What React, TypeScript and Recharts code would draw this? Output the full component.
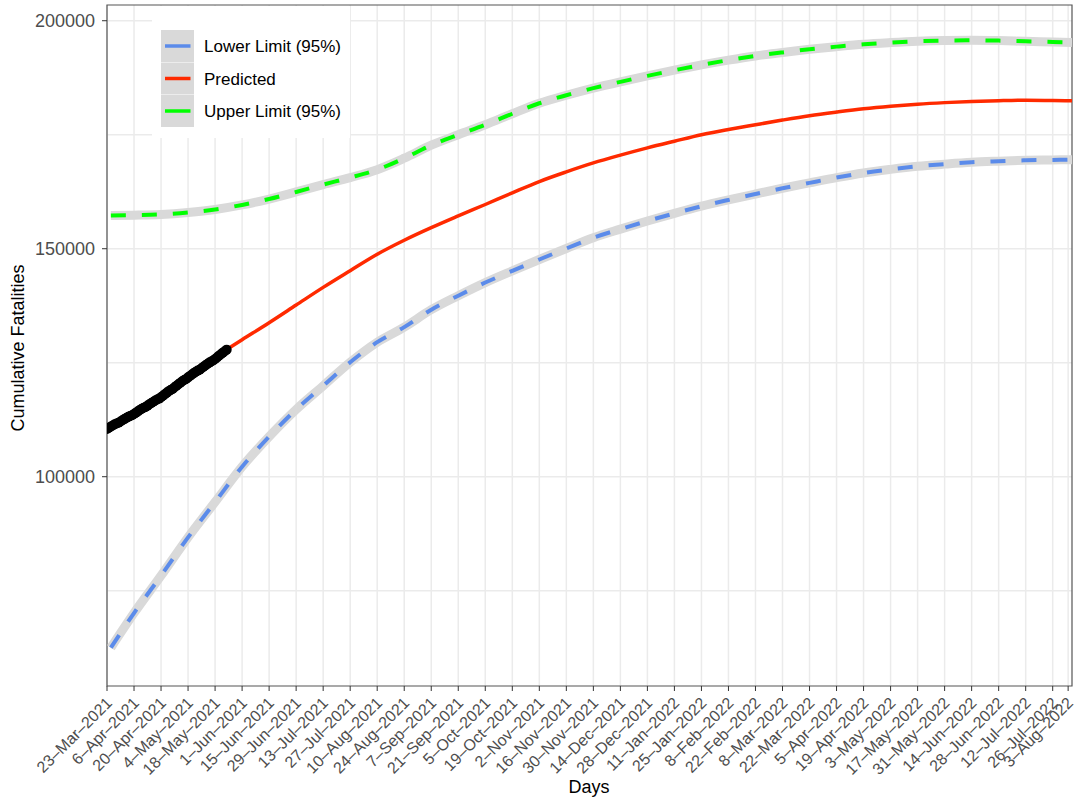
import React from 'react';
import { LineChart, Line, XAxis, YAxis, CartesianGrid, ReferenceArea, Legend } from 'recharts';

// Days since 23-Mar-2021
const tickDays = [0, 14, 28, 42, 56, 70, 84, 98, 112, 126, 140, 154, 168, 182, 196, 210, 224, 238, 252, 266, 280, 294, 308, 322, 336, 350, 364, 378, 392, 406, 420, 434, 448, 462, 476, 490, 498];
const tickLabels = ['23–Mar–2021', '6–Apr–2021', '20–Apr–2021', '4–May–2021', '18–May–2021', '1–Jun–2021', '15–Jun–2021', '29–Jun–2021', '13–Jul–2021', '27–Jul–2021', '10–Aug–2021', '24–Aug–2021', '7–Sep–2021', '21–Sep–2021', '5–Oct–2021', '19–Oct–2021', '2–Nov–2021', '16–Nov–2021', '30–Nov–2021', '14–Dec–2021', '28–Dec–2021', '11–Jan–2022', '25–Jan–2022', '8–Feb–2022', '22–Feb–2022', '8–Mar–2022', '22–Mar–2022', '5–Apr–2022', '19–Apr–2022', '3–May–2022', '17–May–2022', '31–May–2022', '14–Jun–2022', '28–Jun–2022', '12–Jul–2022', '26–Jul–2022', '3–Aug–2022'];
const yTicks = [100000, 150000, 200000];
const yGrid = [75000, 100000, 125000, 150000, 175000, 200000];

// Observed cumulative fatalities (daily, days 0..62)
const observedDays = [0,1,2,3,4,5,6,7,8,9,10,11,12,13,14,15,16,17,18,19,20,21,22,23,24,25,26,27,28,29,30,31,32,33,34,35,36,37,38,39,40,41,42,43,44,45,46,47,48,49,50,51,52,53,54,55,56,57,58,59,60,61,62];
const observedValues = [110480,110740,110995,111245,111485,111685,111855,112120,112380,112635,112885,113125,113325,113495,113760,114050,114335,114615,114885,115110,115300,115590,115880,116165,116445,116715,116940,117130,117420,117765,118105,118440,118765,119035,119260,119605,119950,120290,120625,120950,121220,121445,121790,122105,122415,122720,123015,123265,123475,123795,124110,124420,124725,125020,125270,125480,125800,126160,126515,126865,127205,127505,127865];

// Predicted
const predDays = [62,70,84,98,112,126,140,154,168,182,196,210,224,238,252,266,280,294,308,322,336,350,364,378,392,406,420,434,448,462,476,490,500];
const predValues = [127900,130050,133780,137650,141520,145180,148780,151850,154610,157190,159700,162250,164730,166850,168810,170520,172120,173580,175000,176150,177190,178210,179160,179960,180690,181260,181710,182040,182290,182470,182580,182520,182430];

// Limits
const limDays = [2,14,28,42,56,70,84,98,112,126,140,154,168,182,196,210,224,238,252,266,280,294,308,322,336,350,364,378,392,406,420,434,448,462,476,490,500];
const upperValues = [157270,157350,157520,157950,158600,159600,160900,162450,164060,165600,167340,169850,172700,175000,177200,179600,181900,183650,185210,186600,187900,189150,190310,191350,192280,193050,193740,194320,194840,195200,195490,195650,195710,195640,195480,195350,195250];
const lowerValues = [62500,70100,78300,86700,94440,102200,108800,114750,119930,125100,129500,132800,136620,139700,142580,145150,147630,150050,152410,154300,156080,157750,159320,160700,162000,163260,164440,165600,166620,167400,168070,168550,168960,169200,169390,169480,169530];

const legendLabels = ['Lower Limit (95%)', 'Predicted', 'Upper Limit (95%)'];
const legendColors = ['#5B8BEA', '#FF2A00', '#00FF00'];

const observed = observedDays.map((d, i) => ({ day: d, v: observedValues[i] }));
const predicted = predDays.map((d, i) => ({ day: d, v: predValues[i] }));
const upper = limDays.map((d, i) => ({ day: d, v: upperValues[i] }));
const lower = limDays.map((d, i) => ({ day: d, v: lowerValues[i] }));

const X_DOMAIN: [number, number] = [0, 500];
const Y_DOMAIN: [number, number] = [54100, 203450];

const XTick = (props: any) => {
  const { x, payload } = props;
  const idx = tickDays.indexOf(payload.value);
  const label = idx >= 0 ? tickLabels[idx] : '';
  const ax = x + 6;
  const ay = 704;
  return (
    <text x={ax} y={ay} textAnchor="end" fontSize={16} fill="#4D4D4D" transform={`rotate(-45, ${ax}, ${ay})`}>
      {label}
    </text>
  );
};

const LegendBox = () => (
  <svg width={198} height={132} style={{ display: 'block' }}>
    <rect x={0} y={0} width={198} height={132} fill="#FFFFFF" />
    {legendLabels.map((lab, i) => (
      <g key={lab}>
        <rect x={9} y={24 + i * 32.5} width={33} height={32} fill="#D9D9D9" />
        <line x1={13} x2={38.5} y1={40 + i * 32.5} y2={40 + i * 32.5} stroke={legendColors[i]} strokeWidth={3.5} />
        <text x={52} y={46 + i * 32.5} fontSize={17} fill="#000000">{lab}</text>
      </g>
    ))}
  </svg>
);

export default function App() {
  return (
    <div style={{ position: 'absolute', left: 0, top: 0, width: 1081, height: 803, background: '#fff', fontFamily: '"Liberation Sans", Arial, Helvetica, sans-serif' }}>
      <LineChart width={1081} height={803} margin={{ top: 5, right: 9, bottom: 0, left: 0 }}>
        <CartesianGrid stroke="#EBEBEB" strokeWidth={1.5} horizontalValues={yGrid} verticalValues={tickDays} />
        <XAxis
          type="number"
          dataKey="day"
          domain={X_DOMAIN}
          ticks={tickDays}
          interval={0}
          allowDataOverflow
          height={117}
          axisLine={false}
          tickLine={{ stroke: '#333333' }}
          tickSize={5}
          tick={<XTick />}
        />
        <YAxis
          type="number"
          dataKey="v"
          domain={Y_DOMAIN}
          ticks={yTicks}
          allowDataOverflow
          width={107}
          axisLine={false}
          tickLine={{ stroke: '#333333' }}
          tickSize={5}
          tickMargin={7}
          tick={{ fill: '#4D4D4D', fontSize: 18 }}
        />
        <Line type="monotone" data={upper} dataKey="v" stroke="#D9D9D9" strokeWidth={9} dot={false} activeDot={false} isAnimationActive={false} legendType="none" />
        <Line type="monotone" data={lower} dataKey="v" stroke="#D9D9D9" strokeWidth={9} dot={false} activeDot={false} isAnimationActive={false} legendType="none" />
        <Line type="monotone" data={upper} dataKey="v" stroke="#00FF00" strokeWidth={4} strokeDasharray="15 16" dot={false} activeDot={false} isAnimationActive={false} />
        <Line type="monotone" data={lower} dataKey="v" stroke="#5B8BEA" strokeWidth={4} strokeDasharray="15 16" dot={false} activeDot={false} isAnimationActive={false} />
        <Line type="monotone" data={predicted} dataKey="v" stroke="#FF2A00" strokeWidth={3.5} dot={false} activeDot={false} isAnimationActive={false} />
        <Line data={observed} dataKey="v" stroke="#000000" strokeWidth={9} strokeLinecap="round" dot={{ r: 5, fill: '#000000', stroke: 'none' }} activeDot={false} isAnimationActive={false} />
        <ReferenceArea x1={X_DOMAIN[0]} x2={X_DOMAIN[1]} y1={Y_DOMAIN[0]} y2={Y_DOMAIN[1]} fill="none" stroke="#555555" strokeWidth={1.2} fillOpacity={0} />
        <Legend
          layout="horizontal"
          verticalAlign="middle"
          align="center"
          content={() => <LegendBox />}
          wrapperStyle={{ position: 'absolute', left: 152, top: 6, width: 198, height: 132, margin: 0, padding: 0 }}
        />
      </LineChart>
      <svg width={1081} height={803} style={{ position: 'absolute', left: 0, top: 0, pointerEvents: 'none' }}>
        <text x={24} y={348} textAnchor="middle" fontSize={18} fill="#000" transform="rotate(-90, 24, 348)">Cumulative Fatalities</text>
        <text x={589} y={793} textAnchor="middle" fontSize={18} fill="#000">Days</text>
      </svg>
    </div>
  );
}
